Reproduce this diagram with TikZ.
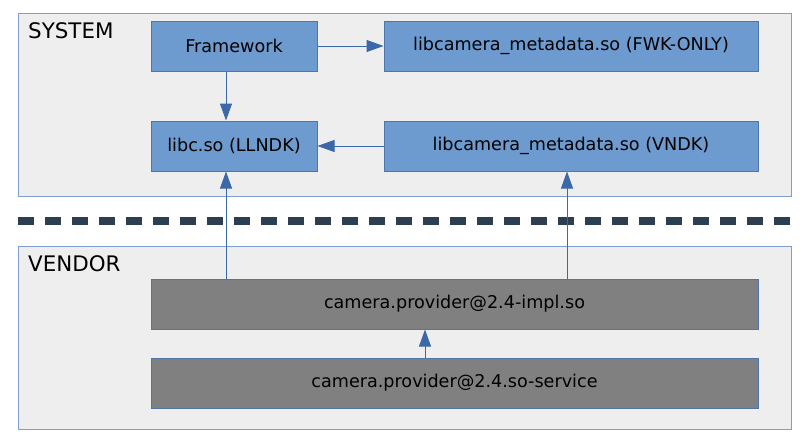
\documentclass[tikz,border=0pt]{standalone}
\usepackage{fontspec}
\setmainfont{DejaVu Sans}
\usetikzlibrary{arrows.meta}
\definecolor{boxblue}{HTML}{6E9BCF}
\definecolor{boxedge}{HTML}{4F75AD}
\definecolor{arrblue}{HTML}{3A68A8}
\definecolor{contfill}{HTML}{EEEEEE}
\definecolor{contedge}{HTML}{7F9FCF}
\definecolor{grayfill}{HTML}{808080}
\definecolor{sepcol}{HTML}{2C3E50}
\tikzset{
  container/.style={draw=contedge, fill=contfill, line width=1pt},
  bluebox/.style={draw=boxedge, fill=boxblue, line width=1pt, minimum height=50pt, inner sep=0pt, font=\fontsize{17.6}{21}\selectfont},
  graybox/.style={draw=boxedge, fill=grayfill, line width=1pt, minimum height=50pt, inner sep=0pt, font=\fontsize{17.6}{21}\selectfont},
  arr/.style={draw=arrblue, line width=1pt, -{Triangle[length=17pt,width=12pt]}},
  grouplabel/.style={anchor=base west, inner sep=0pt, font=\fontsize{21.4}{25}\selectfont}
}
\begin{document}
\begin{tikzpicture}[x=1pt,y=-1pt]
\useasboundingbox (0,0) rectangle (805,442);
% containers
\path[container] (18,13) rectangle (791,196);
\path[container] (18,246) rectangle (791,429);
\node[grouplabel] (syslbl) at (28,38.5) {SYSTEM};
\node[grouplabel] (venlbl) at (28,271.5) {VENDOR};
% separator
\draw[sepcol, line width=8pt, dash pattern=on 16pt off 11pt] (18,221) -- (791,221);
% boxes
\node[bluebox, minimum width=166pt] (fw) at (234,46) {Framework};
\node[bluebox, minimum width=374pt] (fwk) at (571,46) {libcamera\_metadata.so (FWK-ONLY)};
\node[bluebox, minimum width=166pt] (libc) at (234,146) {libc.so (LLNDK)};
\node[bluebox, minimum width=374pt] (vndk) at (571,146) {libcamera\_metadata.so (VNDK)};
\node[graybox, minimum width=607pt] (impl) at (454.5,304) {camera.provider@2.4-impl.so};
\node[graybox, minimum width=607pt] (svc) at (454.5,383) {camera.provider@2.4.so-service};
% connector x positions
\coordinate (xa) at (226,0);
\coordinate (xb) at (567,0);
\coordinate (xc) at (425,0);
% connectors
\draw[arr] (fw.east) -- (fwk.west);
\draw[arr] (fw.south -| xa) -- (libc.north -| xa);
\draw[arr] (vndk.west) -- (libc.east);
\draw[arr] (impl.north -| xa) -- (libc.south -| xa);
\draw[arr] (impl.north -| xb) -- (vndk.south -| xb);
\draw[arr] (svc.north -| xc) -- (impl.south -| xc);
\end{tikzpicture}
\end{document}
